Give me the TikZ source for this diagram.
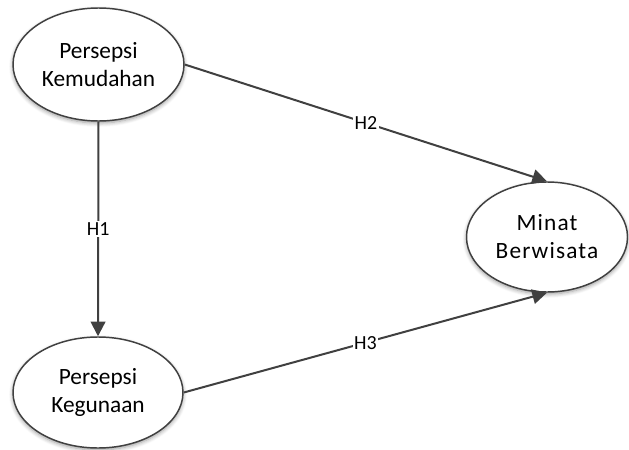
\documentclass[tikz,border=0pt]{standalone}
\usepackage{fontspec}
\setmainfont{Carlito}
\usetikzlibrary{shapes.geometric,arrows.meta,shadows.blur}

\definecolor{linegray}{HTML}{404040}
\definecolor{glowblue}{HTML}{C9DDF2}

\tikzset{
  konstruk/.style={ellipse, draw=linegray, line width=1.1pt, fill=white, inner sep=0pt,
    align=center, font=\fontsize{17.5}{21}\selectfont,
    blur shadow={shadow xshift=0pt, shadow yshift=-1.5pt, shadow blur steps=6, shadow opacity=40, shadow blur radius=3pt}},
  hubungan/.style={draw=linegray, line width=1.5pt, -{Triangle[length=11pt, width=11pt]}},
  hlabel/.style={fill=white, inner sep=1pt, font=\fontsize{15}{17}\selectfont}
}

\begin{document}
\begin{tikzpicture}[x=0.75pt, y=-0.75pt]
        % \draw[help lines, gray!50, very thin] (0,0) grid (629,450);
        \useasboundingbox (0,0) rectangle (629,450);

        \node[konstruk, minimum width=128.25pt, minimum height=84.75pt] (pk) at (98.5,64.5) {Persepsi\\Kemudahan};
        \node[konstruk, minimum width=127.5pt, minimum height=83.25pt] (pg) at (98,392.5) {Persepsi\\Kegunaan};
        \node[konstruk, minimum width=120.75pt, minimum height=82.5pt] (mb) at (547,237)
          {\addfontfeatures{LetterSpace=5}Minat\\\addfontfeatures{LetterSpace=5}Berwisata};

        \draw[hubungan] (pk.south) -- node[hlabel] {H1} (pg.north);
        \draw[hubungan] (pk.east) -- node[hlabel] {H2} (mb.north);
        \draw[hubungan] (pg.east) -- node[hlabel] {H3} (mb.south);
      \end{tikzpicture}
\end{document}
